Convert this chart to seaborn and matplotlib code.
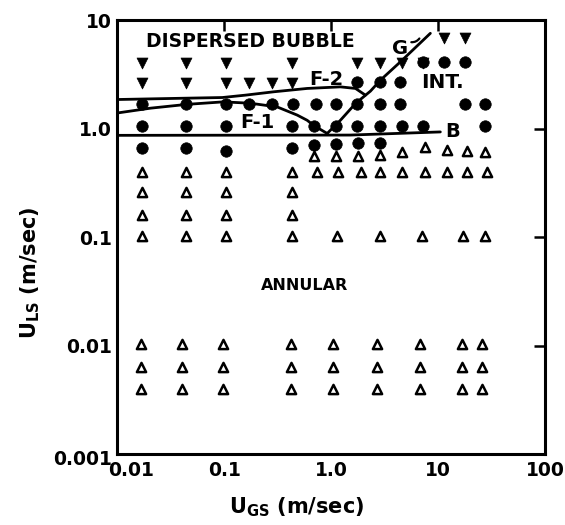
import matplotlib
matplotlib.use("Agg")
import matplotlib.pyplot as plt
import matplotlib.transforms as mtrans
import seaborn as sns
import pandas as pd

# ---------------- data ----------------
# Annular flow (open triangles)
ann_x_low = [0.0165, 0.040, 0.098, 0.42, 1.05, 2.7, 6.8, 16.7, 25.8]
ann_y_low = [0.0040, 0.0063, 0.0103]
ann_x_01 = [0.0171, 0.0435, 0.103, 0.432, 1.13, 2.89, 7.1, 17.2, 27.5]
ann_y_01 = 0.103
ann_x_mid = [0.0171, 0.0435, 0.103, 0.432]
ann_y_mid = [0.158, 0.26]
ann_x_04 = [0.0171, 0.0435, 0.103, 0.432, 0.74, 1.17, 1.9, 2.89, 4.6, 7.6, 12.1, 18.7, 28.7]
ann_y_04 = 0.40
ann_x_06 = [0.684, 1.12, 1.78, 2.89, 4.6, 7.6, 12.1, 18.7, 27.6]
ann_y_06 = [0.56, 0.56, 0.56, 0.57, 0.61, 0.67, 0.64, 0.62, 0.61]

# Intermittent flow (filled circles)
int_x_07 = [0.0171, 0.0435, 0.103, 0.432, 0.684, 1.12, 1.78, 2.89]
int_y_07 = [0.66, 0.66, 0.62, 0.66, 0.71, 0.72, 0.73, 0.73]
int_x_10 = [0.0171, 0.0435, 0.103, 0.432, 0.684, 1.12, 1.75, 2.89, 4.6, 7.3, 27.6]
int_y_10 = 1.05
int_x_17 = [0.0171, 0.0435, 0.103, 0.17, 0.281, 0.44, 0.72, 1.12, 1.75, 2.89, 4.4, 18.0, 27.6]
int_y_17 = 1.67
int_x_27 = [1.75, 2.89, 4.4]
int_y_27 = 2.7
int_x_41 = [7.2, 11.3, 18.0]
int_y_41 = 4.1

# Dispersed bubble flow (filled down triangles)
db_x_68 = [11.3, 18.0]
db_y_68 = 6.8
db_x_40 = [0.0171, 0.0435, 0.103, 0.432, 1.75, 2.89, 4.6, 7.2]
db_y_40 = 4.0
db_x_26 = [0.0171, 0.0435, 0.103, 0.17, 0.281, 0.432]
db_y_26 = 2.6

# Transition boundaries
f2_x = [0.01, 0.0404, 0.096, 0.158, 0.291, 0.597, 1.22, 1.69, 2.09]
f2_y = [1.85, 1.90, 1.93, 2.03, 2.18, 2.34, 2.42, 2.34, 2.03]
f1_x = [0.01, 0.0205, 0.045, 0.098, 0.176, 0.313, 0.481, 0.597, 0.684, 0.918]
f1_y = [1.39, 1.54, 1.67, 1.76, 1.71, 1.58, 1.33, 1.19, 1.07, 0.90]
g_x = [0.918, 1.22, 1.69, 2.33, 2.89, 4.45, 8.47]
g_y = [0.90, 1.19, 1.70, 2.21, 2.79, 4.12, 7.54]
b_x = [0.01, 1.5, 10.5]
b_y = [0.865, 0.87, 0.93]

x_ticks = [0.01, 0.1, 1, 10, 100]
x_ticklabels = ["0.01", "0.1", "1.0", "10", "100"]
y_ticks = [0.001, 0.01, 0.1, 1, 10]
y_ticklabels = ["0.001", "0.01", "0.1", "1.0", "10"]

# ---------------- build tables ----------------
def rows(xs_list, ys_list):
    X, Y = [], []
    for xs, ys in zip(xs_list, ys_list):
        if isinstance(ys, (list, tuple)):
            X += list(xs); Y += list(ys)
        else:
            X += list(xs); Y += [ys] * len(xs)
    return pd.DataFrame({"x": X, "y": Y})

ann = rows([ann_x_low, ann_x_low, ann_x_low, ann_x_01, ann_x_mid, ann_x_mid, ann_x_04, ann_x_06],
           [ann_y_low[0], ann_y_low[1], ann_y_low[2], ann_y_01, ann_y_mid[0], ann_y_mid[1], ann_y_04, ann_y_06])
inte = rows([int_x_07, int_x_10, int_x_17, int_x_27, int_x_41],
            [int_y_07, int_y_10, int_y_17, int_y_27, int_y_41])
db = rows([db_x_68, db_x_40, db_x_26], [db_y_68, db_y_40, db_y_26])

# ---------------- figure ----------------
sns.set_theme(style="white")
plt.rcParams["font.family"] = ["DejaVu Sans"]
plt.rcParams["mathtext.default"] = "bf"
plt.rcParams["text.color"] = "black"
plt.rcParams["axes.labelcolor"] = "black"
plt.rcParams["xtick.color"] = "black"
plt.rcParams["ytick.color"] = "black"

fig = plt.figure(figsize=(5.65, 5.25), dpi=100)
ax = fig.add_axes([0.2076, 0.1352, 0.757, 0.8267])
ax.set_xscale("log")
ax.set_yscale("log")

sns.scatterplot(data=ann, x="x", y="y", marker="^", s=44, facecolor="white",
                edgecolor="black", linewidth=1.8, ax=ax, zorder=3)
sns.scatterplot(data=inte, x="x", y="y", marker="o", s=68, facecolor="black",
                edgecolor="black", linewidth=0.5, ax=ax, zorder=4)
sns.scatterplot(data=db, x="x", y="y", marker="v", s=62, facecolor="black",
                edgecolor="black", linewidth=0.5, ax=ax, zorder=4)

for lx, ly in [(f2_x, f2_y), (f1_x, f1_y), (g_x, g_y), (b_x, b_y)]:
    sns.lineplot(x=lx, y=ly, sort=False, estimator=None, color="black",
                 linewidth=2.0, ax=ax, zorder=5)

ax.set_xlim(0.01, 100)
ax.set_ylim(0.001, 10)
ax.set_xticks(x_ticks)
ax.set_xticklabels(x_ticklabels)
ax.set_yticks(y_ticks)
ax.set_yticklabels(y_ticklabels)
ax.minorticks_off()
ax.tick_params(axis="both", which="major", direction="in", length=8, width=1.8,
               top=True, right=True, labelsize=13.5, colors="black",
               labelcolor="black")
ax.tick_params(axis="x", pad=5)
ax.tick_params(axis="y", pad=4)
for lab in ax.get_xticklabels() + ax.get_yticklabels():
    lab.set_fontweight("bold")
    lab.set_color("black")
for sp in ax.spines.values():
    sp.set_linewidth(2.2)
    sp.set_color("black")

ax.set_xlabel("U$_{GS}$ (m/sec)", fontsize=15, fontweight="bold", color="black")
ax.set_ylabel("U$_{LS}$ (m/sec)", fontsize=15, fontweight="bold", color="black")
ax.xaxis.set_label_coords(0.42, -0.095)
ax.yaxis.set_label_coords(-0.175, 0.417)

# region / boundary labels
tk = dict(fontweight="bold", color="black", ha="center", va="center", zorder=6)
ax.text(0.176, 6.3, "DISPERSED BUBBLE", fontsize=13.5, **tk)
ax.text(0.56, 0.0357, "ANNULAR", fontsize=11.5, **tk)
ax.text(10.97, 2.65, "INT.", fontsize=14.5, **tk)
ax.text(0.904, 2.83, "F-2", fontsize=14, **tk)
ax.text(0.205, 1.14, "F-1", fontsize=14, **tk)
ax.text(4.45, 5.46, "G", fontsize=14, **tk)
ax.text(13.7, 0.944, "B", fontsize=14, **tk)
ax.annotate("", xy=(6.9, 7.1), xytext=(5.3, 6.3),
            arrowprops=dict(arrowstyle="-", color="black", lw=1.6,
                            connectionstyle="arc3,rad=0.4"))

fig.canvas.draw()
# shift first x tick label right, last y tick label down, as in the reference
xl = ax.xaxis.get_major_ticks()[0].label1
xl.set_transform(xl.get_transform() + mtrans.ScaledTranslation(14 / 100, 0, fig.dpi_scale_trans))
yl = ax.yaxis.get_major_ticks()[0].label1
yl.set_transform(yl.get_transform() + mtrans.ScaledTranslation(0, -3 / 100, fig.dpi_scale_trans))

fig.savefig("out.png", dpi=100, facecolor="white")
